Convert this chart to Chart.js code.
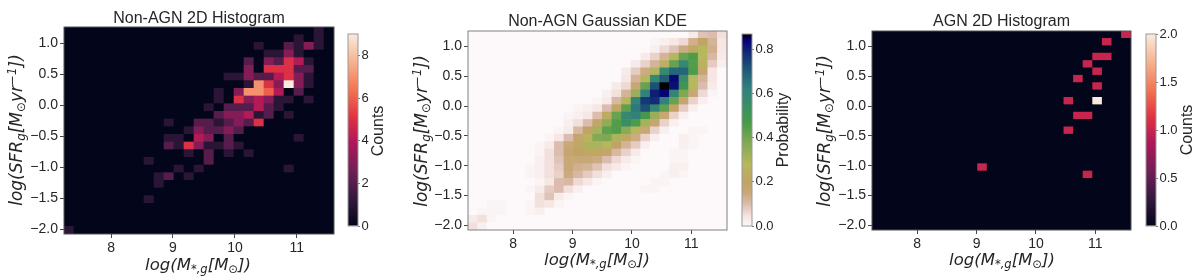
<!DOCTYPE html>
<html>
<head>
<meta charset="utf-8">
<script src="https://cdn.jsdelivr.net/npm/chart.js@4"></script>
<style>
  html, body { margin: 0; background: #fff; }
  #page { position: relative; width: 1200px; height: 280px; overflow: hidden; }
  canvas { position: absolute; top: 0; }
</style>
</head>
<body>
<div id="page"></div>
<script>
// axis ranges and ticks
const xMin = 7.24, xMax = 11.6;
const yMin = -2.08, yMax = 1.26;
const binCount = 27;
const xTicks = [8, 9, 10, 11];
const yTicks = [-2, -1.5, -1, -0.5, 0, 0.5, 1];
const nonAgnBarTicks = [0, 2, 4, 6, 8];
const kdeBarTicks = [0, 0.2, 0.4, 0.6, 0.8];
const agnBarTicks = [0, 0.5, 1, 1.5, 2];

// each row is one SFR bin from the top, keys are the mass bin
const nonAgnCounts = [
  {25:1},
  {23:1,25:1},
  {19:1,22:2,23:1,24:3,25:1},
  {20:1,21:1,22:3,23:1},
  {18:2,20:3,21:2,22:5,23:4,24:1},
  {18:3,20:5,21:5,22:5,23:2,24:2},
  {16:1,17:1,18:3,19:2,20:2,21:4,22:5,23:3,24:1},
  {18:1,19:7,20:5,21:3,22:9,23:3,24:1},
  {15:1,17:3,18:7,19:7,20:6,21:4,23:2},
  {15:1,17:5,18:3,19:4,20:3,21:1,22:1,24:1},
  {14:1,16:2,17:2,18:2,19:4,20:2,21:1},
  {15:2,16:3,17:3,18:4,19:1,20:2,22:1},
  {10:1,13:2,14:2,15:1,16:2,17:3,18:2,19:5},
  {12:1,13:3,14:2,15:2,16:3,17:2},
  {10:1,11:1,13:4,14:3,16:2,23:1},
  {10:2,11:1,12:5,13:3,14:1,15:1,16:2,17:1},
  {12:1,14:2,16:1,18:1},
  {8:1,14:2},
  {11:1,13:1,22:1},
  {9:1,10:2,12:1},
  {9:1},
  {},
  {8:1},
  {},
  {},
  {},
  {0:1}
];

// probability in hundredths
const kdeValues = [
  {23:3,24:9,25:10,26:5},
  {19:1,20:2,21:4,22:6,23:13,24:20,25:12,26:4},
  {19:2,20:6,21:9,22:14,23:22,24:28,25:13,26:4},
  {18:3,19:7,20:12,21:27,22:42,23:46,24:28,25:11,26:3},
  {17:3,18:7,19:12,20:25,21:42,22:58,23:45,24:26,25:8,26:2},
  {16:3,17:8,18:14,19:29,20:58,21:68,22:68,23:46,24:17,25:4},
  {16:4,17:12,18:27,19:58,20:70,21:83,22:56,23:28,24:12,25:4},
  {15:3,16:6,17:16,18:42,19:72,20:87,21:82,22:50,23:28,24:10,25:3},
  {14:2,15:5,16:12,17:33,18:62,19:80,20:84,21:60,22:38,23:16,24:6,25:1},
  {13:1,14:3,15:11,16:27,17:60,18:76,19:78,20:62,21:42,22:17,23:7,24:2},
  {11:1,12:2,13:4,14:10,15:22,16:43,17:64,18:72,19:60,20:43,21:20,22:8,23:2},
  {10:1,11:2,12:4,13:10,14:23,15:42,16:58,17:61,18:48,19:33,20:16,21:7,22:2},
  {10:2,11:5,12:10,13:19,14:35,15:45,16:55,17:46,18:31,19:17,20:7,21:2},
  {9:1,10:3,11:11,12:20,13:31,14:43,15:45,16:36,17:27,18:16,19:7,20:2,23:1,24:1},
  {8:1,9:4,10:10,11:18,12:26,13:37,14:38,15:30,16:22,17:14,18:7,19:2,22:2,23:1},
  {7:1,8:3,9:10,10:15,11:22,12:30,13:30,14:27,15:20,16:12,17:8,18:2,22:2,23:1},
  {7:1,8:5,9:10,10:17,11:20,12:22,13:22,14:18,15:11,16:7,17:3,21:1,22:1},
  {7:2,8:5,9:9,10:15,11:15,12:15,13:14,14:10,15:6,16:3,17:1,21:1,22:1},
  {6:1,7:2,8:5,9:8,10:15,11:13,12:12,13:9,14:5,15:3,16:1,21:2,22:2},
  {6:1,7:2,8:5,9:7,10:14,11:11,12:8,13:5,14:2,20:1,21:2,22:1},
  {7:1,8:4,9:10,10:11,11:6,12:4,13:1,19:1,20:1},
  {6:1,7:3,8:8,9:10,10:5,11:2,18:1,19:1},
  {7:5,8:9,9:3,10:1},
  {2:1,3:1,6:1,7:5,8:4,9:1},
  {1:1,2:1,3:1,6:1,7:2},
  {0:3,1:5,2:1},
  {0:5,1:2}
];

const agnCounts = [
  {26:1},
  {24:1},
  {},
  {23:1,24:1},
  {22:1},
  {23:1},
  {21:1},
  {23:1},
  {},
  {20:1,23:2},
  {},
  {21:1,22:1},
  {},
  {20:1},
  {},
  {},
  {},
  {},
  {11:1},
  {22:1},
  {},
  {},
  {},
  {},
  {},
  {},
  {}
];

const rocket = [[0,'#03051a'],[0.143,'#35193e'],[0.286,'#701f57'],[0.429,'#ad1759'],
  [0.571,'#e13342'],[0.714,'#f37651'],[0.857,'#f6b48f'],[1,'#faebdd']];
const earthR = [[0,'#fdf8f9'],[0.05,'#f5e5e3'],[0.115,'#dcbcae'],[0.17,'#c9a878'],[0.23,'#c1a365'],
  [0.32,'#b7b75e'],[0.451,'#78a652'],[0.541,'#459a49'],[0.718,'#308080'],[0.792,'#236278'],
  [0.89,'#133075'],[0.97,'#050074'],[1,'#000000']];

const ink = '#262626';
const tickFont = { family: 'Liberation Sans', size: 14 };
const barTickFont = { family: 'Liberation Sans', size: 13 };

function hexToRgb(h) {
  return [1, 3, 5].map(i => parseInt(h.substr(i, 2), 16));
}

function colorAt(stops, t) {
  t = Math.min(1, Math.max(0, t));
  for (let i = 1; i < stops.length; i++) {
    if (t <= stops[i][0]) {
      const f = (t - stops[i-1][0]) / (stops[i][0] - stops[i-1][0]);
      const a = hexToRgb(stops[i-1][1]), b = hexToRgb(stops[i][1]);
      return 'rgb(' + a.map((v, k) => Math.round(v + (b[k] - v) * f)).join(',') + ')';
    }
  }
  return stops[stops.length-1][1];
}

// matplotlib style math labels need sub and superscripts, so segments are drawn by hand
function richLabels(items) {
  return {
    id: 'richLabels',
    afterDraw(chart) {
      const ctx = chart.ctx;
      items.forEach(item => {
        ctx.save();
        ctx.translate(item.x, item.y);
        ctx.rotate(item.angle);
        ctx.fillStyle = ink;
        ctx.textBaseline = 'alphabetic';
        ctx.textAlign = 'left';
        const fontOf = s => (s.upright ? '' : 'italic ') + (item.size * (s.scale || 1)) + 'px "' + item.family + '"';
        let total = 0;
        item.segs.forEach(s => { ctx.font = fontOf(s); total += ctx.measureText(s.text).width; });
        let x = -total / 2;
        item.segs.forEach(s => {
          ctx.font = fontOf(s);
          ctx.fillText(s.text, x, (s.dy || 0));
          x += ctx.measureText(s.text).width;
        });
        ctx.restore();
      });
    }
  };
}

function framePlugin(fill, stroke) {
  return {
    id: 'frame',
    beforeDatasetsDraw(chart) {
      if (!fill) return;
      const a = chart.chartArea;
      chart.ctx.fillStyle = fill;
      chart.ctx.fillRect(a.left, a.top, a.right - a.left, a.bottom - a.top);
    },
    afterDatasetsDraw(chart) {
      const a = chart.chartArea;
      chart.ctx.strokeStyle = stroke;
      chart.ctx.lineWidth = 1;
      chart.ctx.strokeRect(a.left, a.top, a.right - a.left, a.bottom - a.top);
    }
  };
}

function addCanvas(left, width) {
  const c = document.createElement('canvas');
  c.width = width;
  c.height = 280;
  c.style.left = left + 'px';
  c.style.width = width + 'px';
  c.style.height = '280px';
  document.getElementById('page').appendChild(c);
  return c.getContext('2d');
}

const xLabelSegs = [
  { text: 'log(M' }, { text: '*,g', scale: 0.7, dy: 3 }, { text: '[M' },
  { text: '⊙', scale: 0.7, dy: 3 }, { text: '])' }
];
const yLabelSegs = [
  { text: 'log(SFR' }, { text: 'g', scale: 0.7, dy: 3 }, { text: '[M' },
  { text: '⊙', scale: 0.7, dy: 3 }, { text: 'yr' }, { text: '−1', scale: 0.7, dy: -6 }, { text: '])' }
];

function heatPanel(p) {
  const dx = (xMax - xMin) / binCount, dy = (yMax - yMin) / binCount;
  const cells = [];
  p.rows.forEach((row, j) => {
    for (let c = 0; c < binCount; c++) {
      cells.push({
        x: xMin + (c + 0.5) * dx,
        y: [yMax - (j + 1) * dy, yMax - j * dy],
        v: (row[c] || 0) * p.unit
      });
    }
  });
  const canvasW = p.plotRight - p.left + 3;
  new Chart(addCanvas(p.left, canvasW), {
    type: 'bar',
    data: {
      datasets: [{
        data: cells,
        barThickness: (p.plotRight - p.plotLeft) / binCount,
        backgroundColor: ctx => ctx.raw ? colorAt(p.stops, ctx.raw.v / p.vmax) : 'transparent',
        borderWidth: 0
      }]
    },
    options: {
      responsive: false,
      animation: false,
      layout: { padding: { right: 3, left: 0, top: 0, bottom: 0 } },
      plugins: {
        legend: { display: false },
        tooltip: { enabled: false },
        title: {
          display: true,
          fullSize: false,
          text: p.title,
          color: ink,
          font: { family: 'Liberation Sans', size: 16, weight: 'normal', lineHeight: 1.2 },
          padding: { top: p.titleTop, bottom: p.plotTop - p.titleTop - 16 * 1.2 }
        }
      },
      scales: {
        x: {
          type: 'linear',
          min: xMin,
          max: xMax,
          offset: false,
          afterFit: s => { s.height = 280 - p.plotBottom; },
          afterBuildTicks: s => { s.ticks = xTicks.map(v => ({ value: v })); },
          grid: { offset: false, drawOnChartArea: false, tickLength: 4, tickColor: '#444', tickWidth: 1 },
          border: { display: false },
          ticks: { color: ink, font: tickFont, padding: 2, maxRotation: 0, callback: v => String(v) }
        },
        y: {
          min: yMin,
          max: yMax,
          afterFit: s => { s.width = p.plotLeft - p.left; },
          afterBuildTicks: s => { s.ticks = yTicks.map(v => ({ value: v })); },
          grid: { drawOnChartArea: false, tickLength: 4, tickColor: '#444', tickWidth: 1 },
          border: { display: false },
          ticks: { color: ink, font: tickFont, padding: 2, callback: v => v.toFixed(1).replace('-', '−') }
        }
      }
    },
    plugins: [
      framePlugin(colorAt(p.stops, 0), p.spine),
      richLabels([
        { segs: xLabelSegs, x: p.xLabelX - p.left, y: p.xLabelY, angle: 0, size: 16.5, family: 'DejaVu Sans' },
        { segs: yLabelSegs, x: p.yLabelX - p.left, y: p.yLabelCy, angle: -Math.PI / 2, size: 17, family: 'DejaVu Sans' }
      ])
    ]
  });
}

function colorBar(p) {
  const left = p.barLeft - 3;
  const width = p.canvasRight - left;
  new Chart(addCanvas(left, width), {
    type: 'bar',
    data: {
      labels: [p.label],
      datasets: [{
        data: [[0, p.max]],
        barPercentage: 1,
        categoryPercentage: 1,
        borderWidth: 0,
        backgroundColor: ctx => {
          const a = ctx.chart.chartArea;
          if (!a) return 'transparent';
          const g = ctx.chart.ctx.createLinearGradient(0, a.bottom, 0, a.top);
          p.stops.forEach(s => g.addColorStop(s[0], s[1]));
          return g;
        }
      }]
    },
    options: {
      responsive: false,
      animation: false,
      layout: { padding: { left: 3, right: 0, top: p.top, bottom: 280 - p.bottom } },
      plugins: { legend: { display: false }, tooltip: { enabled: false } },
      scales: {
        x: { display: false },
        y: {
          position: 'right',
          min: 0,
          max: p.max,
          afterFit: s => { s.width = width - 3 - (p.barRight - p.barLeft); },
          afterBuildTicks: s => { s.ticks = p.ticks.map(v => ({ value: v })); },
          grid: { drawOnChartArea: false, tickLength: 2, tickColor: '#777', tickWidth: 1 },
          border: { display: false },
          ticks: { color: ink, font: barTickFont, padding: 1.5, callback: v => v.toFixed(p.digits) }
        }
      }
    },
    plugins: [
      framePlugin(null, '#999'),
      richLabels([{ segs: [{ text: p.label, upright: true }], x: p.labelX - left, y: p.labelCy, angle: -Math.PI / 2, size: 16, family: 'Liberation Sans' }])
    ]
  });
}

heatPanel({ left: 0, plotLeft: 64, plotRight: 334, plotTop: 27, plotBottom: 234, titleTop: 9,
  xLabelX: 198, xLabelY: 270, yLabelX: 22, yLabelCy: 130, spine: '#555',
  title: 'Non-AGN 2D Histogram', rows: nonAgnCounts, unit: 1, vmax: 9, stops: rocket });
colorBar({ barLeft: 348, barRight: 358, top: 34, bottom: 226, canvasRight: 400, max: 9, digits: 0,
  ticks: nonAgnBarTicks, stops: rocket, label: 'Counts', labelX: 383, labelCy: 131 });

heatPanel({ left: 400, plotLeft: 468, plotRight: 727, plotTop: 31, plotBottom: 230, titleTop: 12,
  xLabelX: 597, xLabelY: 265, yLabelX: 427, yLabelCy: 131, spine: '#808080',
  title: 'Non-AGN Gaussian KDE', rows: kdeValues, unit: 0.01, vmax: 0.87, stops: earthR });
colorBar({ barLeft: 742, barRight: 752, top: 34, bottom: 226, canvasRight: 800, max: 0.87, digits: 1,
  ticks: kdeBarTicks, stops: earthR, label: 'Probability', labelX: 788, labelCy: 130 });

heatPanel({ left: 800, plotLeft: 872, plotRight: 1131, plotTop: 31, plotBottom: 230, titleTop: 12,
  xLabelX: 1002, xLabelY: 265, yLabelX: 830, yLabelCy: 131, spine: '#555',
  title: 'AGN 2D Histogram', rows: agnCounts, unit: 1, vmax: 2, stops: rocket });
colorBar({ barLeft: 1146, barRight: 1156, top: 34, bottom: 226, canvasRight: 1200, max: 2, digits: 1,
  ticks: agnBarTicks, stops: rocket, label: 'Counts', labelX: 1192, labelCy: 130 });
</script>
</body>
</html>
